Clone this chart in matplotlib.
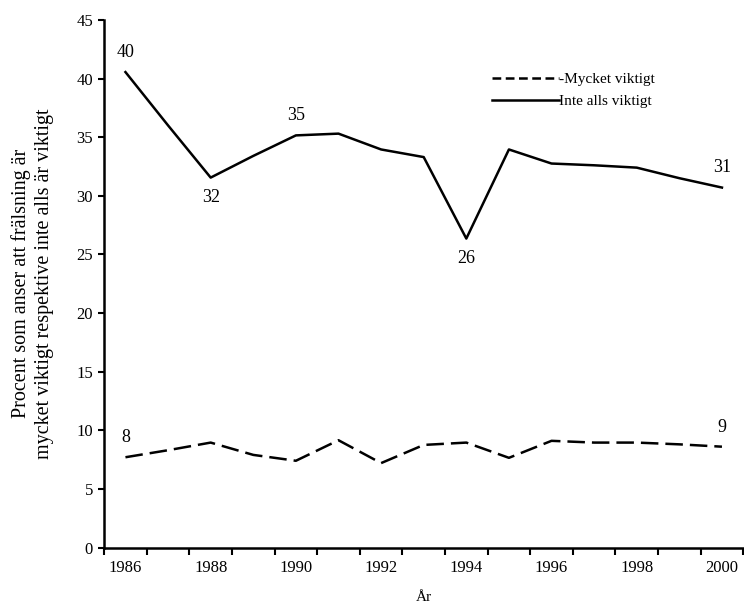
import numpy as np
import matplotlib
matplotlib.use('Agg')
import matplotlib.pyplot as plt
from matplotlib.lines import Line2D

# ─── DATA ─────────────────────────────────────────────────────────────────────
years = [1986, 1987, 1988, 1989, 1990, 1991, 1992, 1993,
         1994, 1995, 1996, 1997, 1998, 1999, 2000]
mycket_viktigt = [7.7, 8.3, 8.95, 7.9, 7.4, 9.15, 7.2, 8.75,
                  8.95, 7.65, 9.1, 8.95, 8.95, 8.8, 8.6]
inte_alls = [40.55, 36.0, 31.55, 33.4, 35.15, 35.3, 33.95, 33.3,
             26.35, 33.95, 32.75, 32.6, 32.4, 31.5, 30.7]

# etiketter vid utvalda år: (år, text, placering)
labels_inte = [(1986, '40', 'over'), (1988, '32', 'under'), (1990, '35', 'over'),
               (1994, '26', 'under'), (2000, '31', 'over')]
labels_mycket = [(1986, '8', 'over'), (2000, '9', 'over')]

plt.rcParams['font.family'] = ['Liberation Serif', 'DejaVu Serif']

fig = plt.figure(figsize=(7.44, 6.03), dpi=100)
ax = fig.add_axes([0.14, 0.092, 0.859, 0.875])

x = np.arange(len(years))
ax.plot(x, mycket_viktigt, color='black', linewidth=1.8, dashes=(7, 2.8))
ax.plot(x, inte_alls, color='black', linewidth=1.8)


def etikett(serie, lista):
    for ar, txt, pos in lista:
        i = years.index(ar)
        dy = 8 if pos == 'over' else -8
        ax.annotate(txt, xy=(i, serie[i]), xytext=(0, dy), textcoords='offset points',
                    ha='center', va='bottom' if pos == 'over' else 'top', fontsize=13)


etikett(inte_alls, labels_inte)
etikett(mycket_viktigt, labels_mycket)

# ─── AXLAR ────────────────────────────────────────────────────────────────────
ax.set_xlim(-0.5, len(years) - 0.5)
ax.set_ylim(0, 45)
ax.set_yticks(range(0, 50, 5))
ax.set_xticks(np.arange(-0.5, len(years), 1))
ax.set_xticklabels([])
ax.set_xticks(x[::2], minor=True)
ax.set_xticklabels([str(y) for y in years[::2]], minor=True)
ax.tick_params(axis='x', which='major', length=5, width=1.5, direction='out')
ax.tick_params(axis='x', which='minor', length=0, pad=9, labelsize=12)
ax.tick_params(axis='y', length=4, width=1.5, direction='out', pad=4, labelsize=12)

for s in ['top', 'right']:
    ax.spines[s].set_visible(False)
for s in ['left', 'bottom']:
    ax.spines[s].set_linewidth(1.8)

ax.set_xlabel('År', fontsize=11, labelpad=11)
ax.set_ylabel('Procent som anser att frälsning är\nmycket viktigt respektive inte alls är viktigt',
              fontsize=14.5, labelpad=16, linespacing=1.3)

handles = [Line2D([], [], color='black', linewidth=1.8, dashes=(3.5, 1.8)),
           Line2D([], [], color='black', linewidth=1.8)]
ax.legend(handles, ['-Mycket viktigt', 'Inte alls viktigt'], loc='upper left',
          bbox_to_anchor=(0.597, 0.912), frameon=False, fontsize=11,
          handlelength=4.4, handletextpad=0.0, labelspacing=0.55,
          borderaxespad=0)

plt.savefig('out.png', dpi=100)
plt.close()
